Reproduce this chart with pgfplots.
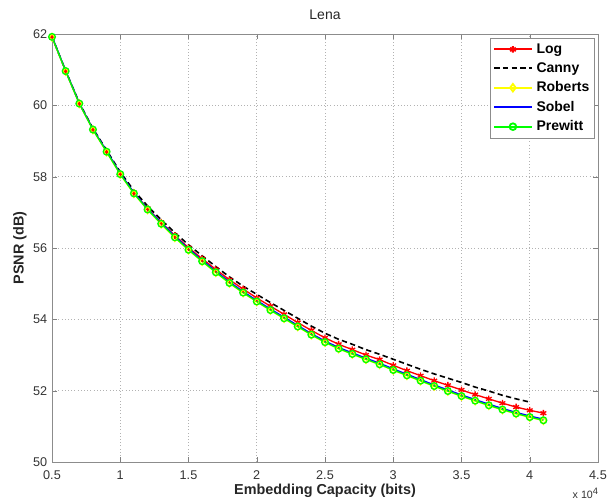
\documentclass[border=0pt]{standalone}
\usepackage{fontspec}
\setmainfont{Liberation Sans}
\usepackage{pgfplots}
\usepackage{pgfplotstable}
\pgfplotsset{compat=1.18}

\definecolor{mred}{rgb}{1,0,0}
\definecolor{mblue}{rgb}{0,0,1}
\definecolor{mgreen}{rgb}{0,1,0}
\definecolor{myellow}{rgb}{1,1,0}

% x in units of 10^4 bits; G = Prewitt, R = Roberts, S = Sobel, L = Log
\pgfplotstableread{
x    G      R      S      L
0.5  61.92  61.91  61.93  61.92
0.6  60.96  60.95  60.97  60.96
0.7  60.05  60.04  60.06  60.06
0.8  59.32  59.31  59.33  59.33
0.9  58.70  58.69  58.72  58.71
1.0  58.07  58.06  58.09  58.09
1.1  57.53  57.52  57.55  57.55
1.2  57.08  57.07  57.10  57.11
1.3  56.68  56.67  56.71  56.72
1.4  56.30  56.29  56.33  56.35
1.5  55.95  55.94  55.98  56.01
1.6  55.63  55.62  55.66  55.70
1.7  55.32  55.31  55.35  55.40
1.8  55.02  55.01  55.05  55.11
1.9  54.75  54.74  54.78  54.85
2.0  54.50  54.49  54.53  54.60
2.1  54.26  54.25  54.29  54.37
2.2  54.03  54.02  54.06  54.14
2.3  53.80  53.79  53.83  53.91
2.4  53.57  53.56  53.60  53.69
2.5  53.36  53.35  53.39  53.48
2.6  53.18  53.17  53.21  53.30
2.7  53.03  53.02  53.06  53.15
2.8  52.88  52.87  52.91  53.00
2.9  52.74  52.73  52.77  52.87
3.0  52.58  52.57  52.61  52.71
3.1  52.43  52.42  52.46  52.56
3.2  52.28  52.27  52.31  52.42
3.3  52.13  52.12  52.16  52.28
3.4  51.99  51.98  52.02  52.15
3.5  51.85  51.84  51.88  52.02
3.6  51.72  51.71  51.75  51.89
3.7  51.59  51.58  51.62  51.77
3.8  51.47  51.46  51.50  51.65
3.9  51.36  51.35  51.39  51.54
4.0  51.26  51.25  51.29  51.45
4.1  51.17  51.16  51.20  51.37
}\lena

\pgfplotstableread{
x    C
0.5  61.92
0.6  60.97
0.7  60.07
0.8  59.35
0.9  58.74
1.0  58.13
1.1  57.61
1.2  57.18
1.3  56.79
1.4  56.43
1.5  56.09
1.6  55.78
1.7  55.48
1.8  55.19
1.9  54.93
2.0  54.70
2.1  54.47
2.2  54.25
2.3  54.03
2.4  53.81
2.5  53.61
2.6  53.44
2.7  53.30
2.8  53.15
2.9  53.02
3.0  52.88
3.1  52.74
3.2  52.60
3.3  52.47
3.4  52.35
3.5  52.23
3.6  52.10
3.7  51.99
3.8  51.87
3.9  51.77
4.0  51.68
}\canny

\begin{document}
\begin{tikzpicture}
\begin{axis}[
    scale only axis,
    width=409.5pt,
    height=321pt,
    xmin=0.5, xmax=4.5,
    ymin=50, ymax=62,
    xtick={0.5,1,...,4.5},
    ytick={50,52,...,62},
    xticklabel style={/pgf/number format/fixed},
    xticklabel shift=3pt,
    /pgf/number format/assume math mode=true,
    ticklabel style={font=\fontsize{9.5}{11}\selectfont, text=black!80},
    tick align=inside,
    major tick length=4pt,
    tick style={black!50},
    axis line style={black!45},
    grid=major,
    grid style={dotted, black!30},
    xlabel={Embedding Capacity (bits)},
    ylabel={PSNR (dB)},
    label style={font=\bfseries\fontsize{10.8}{12}\selectfont, text=black!85},
    xlabel style={at={(axis description cs:0.5,-0.067)}, anchor=center},
    ylabel style={at={(axis description cs:-0.0586,0.5)}, anchor=center},
    legend cell align=left,
    legend style={at={(axis description cs:0.9945,0.9907)}, anchor=north east,
        font=\bfseries\fontsize{10.5}{12}\selectfont, draw=black!45,
        inner xsep=2pt, inner ysep=2pt, row sep=1.5pt,
        /tikz/every odd column/.append style={column sep=1pt}},
    legend image code/.code={
        \draw[mark repeat=2,mark phase=2,#1,line width=1.4pt]
            plot coordinates {(0pt,0pt) (14pt,0pt) (28pt,0pt)};},
    every axis plot/.append style={line width=1pt},
]
\addplot[draw=mred, mark=asterisk, mark size=2.5pt, mark options={mred}] table[x=x, y=L] {\lena};
\addlegendentry{Log}
\addplot[draw=black, line width=1.2pt, dash pattern=on 4pt off 2.5pt] table[x=x, y=C] {\canny};
\addlegendentry{Canny}
\addplot[draw=myellow, mark=diamond, mark size=2.8pt, mark options={myellow}] table[x=x, y=R] {\lena};
\addlegendentry{Roberts}
\addplot[draw=mblue] table[x=x, y=S] {\lena};
\addlegendentry{Sobel}
\addplot[draw=mgreen, mark=o, mark size=2.5pt, mark options={mgreen}] table[x=x, y=G] {\lena};
\addlegendentry{Prewitt}
\end{axis}
\node[font=\fontsize{10.5}{12}\selectfont, text=black!85]
    at ([yshift=14.25pt]current axis.north) {Lena};
\node[font=\fontsize{8}{9}\selectfont, text=black!80, anchor=base west]
    at ([xshift=-22.5pt,yshift=-27pt]current axis.south east) {x 10\textsuperscript{\scriptsize 4}};
\pgfresetboundingbox
\path ([xshift=-39pt,yshift=-27.75pt]current axis.south west)
    rectangle ([xshift=7.5pt,yshift=25.5pt]current axis.north east);
\end{tikzpicture}
\end{document}
